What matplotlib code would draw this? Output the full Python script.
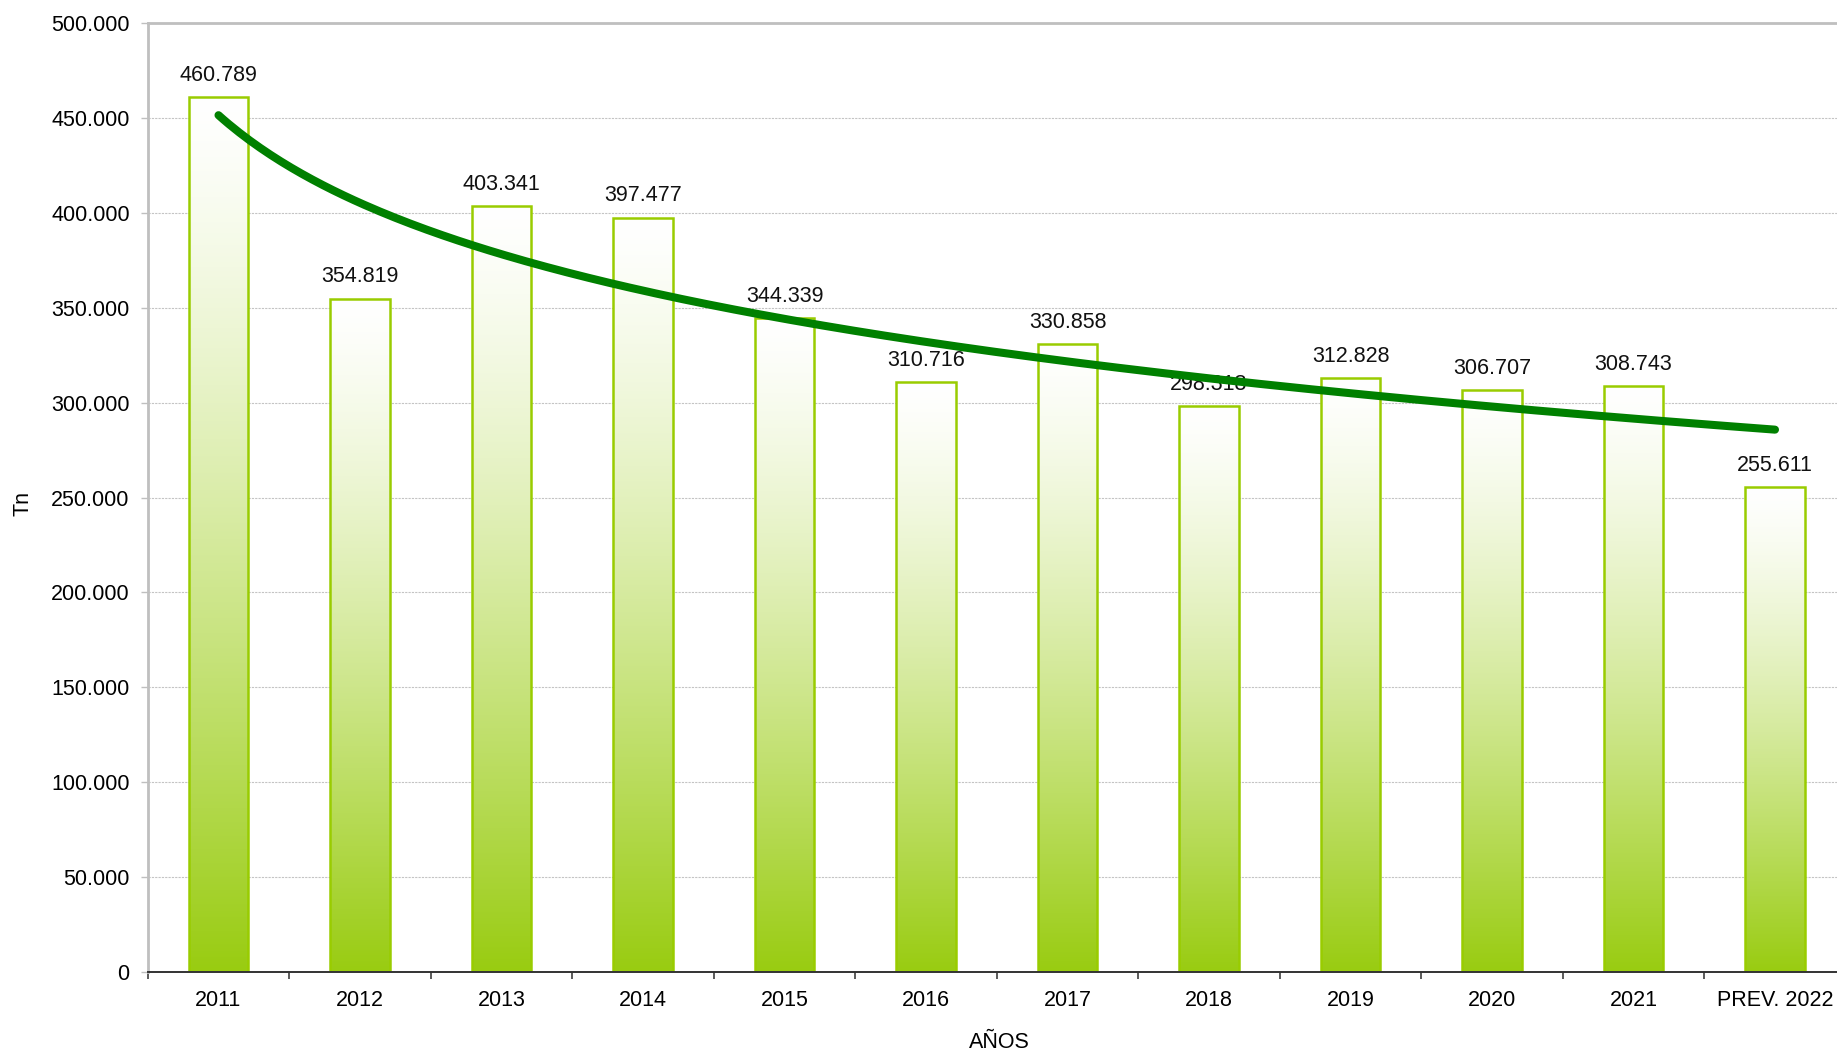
import numpy as np
import matplotlib
matplotlib.use("Agg")
import matplotlib.pyplot as plt
from matplotlib.colors import to_rgb

plt.rcParams['font.family'] = ['Liberation Sans', 'DejaVu Sans']

categories = ["2011", "2012", "2013", "2014", "2015", "2016", "2017", "2018",
              "2019", "2020", "2021", "PREV. 2022"]
values = [460789, 354819, 403341, 397477, 344339, 310716, 330858, 298318,
          312828, 306707, 308743, 255611]
labels = ["460.789", "354.819", "403.341", "397.477", "344.339", "310.716",
          "330.858", "298.318", "312.828", "306.707", "308.743", "255.611"]
yticks = [0, 50000, 100000, 150000, 200000, 250000, 300000, 350000, 400000, 450000, 500000]
yticklabels = ["0", "50.000", "100.000", "150.000", "200.000", "250.000", "300.000",
               "350.000", "400.000", "450.000", "500.000"]

W, H = 1837, 1055
fig = plt.figure(figsize=(W / 100, H / 100), dpi=100)
left = 147.75 / W
right = (147.75 + 12 * 141.5) / W
bottom = (H - 972) / H
top = (H - 23) / H
ax = fig.add_axes([left, bottom, right - left, top - bottom])

x = np.arange(len(categories))
bw = 0.417

green = np.array(to_rgb("#99CC11"))
white = np.array([1.0, 1.0, 1.0])
n = 256
t = np.linspace(0, 1, n)  # 0 bottom, 1 top
gf = (1 - t) ** 1.3
grad = (gf[:, None] * green[None, :] + (1 - gf[:, None]) * white[None, :])
grad = grad[:, None, :]

for xi, v in zip(x, values):
    ax.imshow(grad, extent=[xi - bw / 2, xi + bw / 2, 0, v], origin='lower',
              aspect='auto', zorder=2, interpolation='bilinear')
ax.bar(x, values, width=bw, fill=False, edgecolor="#99CC00", linewidth=1.8, zorder=2.5)

fs = 15.5
for xi, v, lab in zip(x, values, labels):
    ax.annotate(lab, (xi, v), xytext=(0, 8), textcoords='offset points',
                ha='center', va='bottom', fontsize=fs, color='#111111', zorder=3)

# logarithmic trend line fitted to the data
lx = np.log(x + 1)
a, b = np.polyfit(lx, np.array(values, dtype=float), 1)
xs = np.linspace(0, len(categories) - 1, 300)
ax.plot(xs, a * np.log(xs + 1) + b, color="#008000", linewidth=5.8,
        solid_capstyle='round', zorder=4)

ax.set_xlim(-0.5, len(categories) - 0.5)
ax.set_ylim(0, 500000)
ax.set_yticks(yticks)
ax.set_yticklabels(yticklabels)
ax.set_xticks(x)
ax.set_xticklabels(categories)
ax.set_xticks(np.arange(-0.5, len(categories) - 0.4, 1), minor=True)
ax.tick_params(axis='x', which='major', length=0, pad=13, labelsize=fs)
ax.tick_params(axis='x', which='minor', length=5, width=1.2, color='#404040', direction='out')
ax.tick_params(axis='y', length=5, width=1, color='#BFBFBF', pad=8, labelsize=fs)

ax.grid(axis='y', linestyle=(0, (2, 1)), color='#C4C4C4', linewidth=0.8, zorder=0)
ax.set_axisbelow(True)

ax.spines['left'].set_color('#BFBFBF')
ax.spines['left'].set_linewidth(2)
ax.spines['top'].set_color('#BFBFBF')
ax.spines['top'].set_linewidth(2)
ax.spines['right'].set_visible(False)
ax.spines['bottom'].set_color('#333333')
ax.spines['bottom'].set_linewidth(1.4)

fig.text(23 / W, 1 - 504 / H, "Tn", rotation=90, ha='center', va='center', fontsize=fs)
fig.text(999 / W, 1 - 1043 / H, "AÑOS", ha='center', va='center', fontsize=fs)

fig.savefig("out.png", dpi=100)
